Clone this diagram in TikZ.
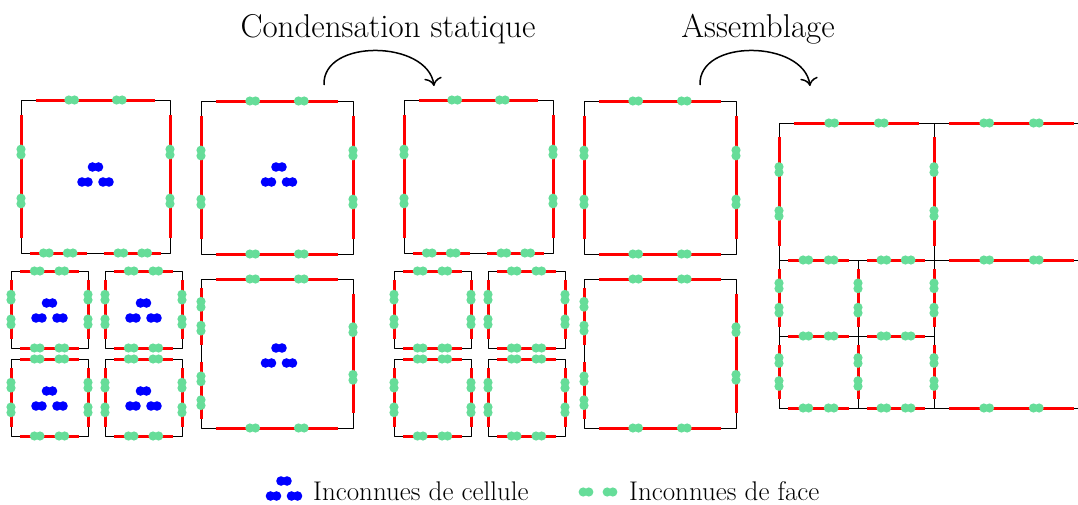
\documentclass[tikz,border=0pt]{standalone}
\usepackage{fontspec}
\usetikzlibrary{positioning,arrows.meta}
\definecolor{faceGreen}{RGB}{102,221,153}
\tikzset{
  edgeline/.style={line width=1pt, black},
  redface/.style={line width=3pt, red},
  facedot/.style={fill=faceGreen},
  celldot/.style={fill=blue},
}
\newcommand{\titlefont}{\fontsize{33}{40}\selectfont}
\newcommand{\legendfont}{\fontsize{27}{32}\selectfont}
% face horizontale : x1, x2, y
\newcommand{\hface}[3]{%
  \pgfmathsetmacro{\facelen}{#2-#1}%
  \pgfmathsetmacro{\faceins}{0.08*\facelen+3}%
  \draw[redface] (#1+\faceins,#3) -- (#2-\faceins,#3);
  \foreach \t in {0.34,0.66}{%
    \pgfmathsetmacro{\facemid}{#1+\t*\facelen}%
    \fill[facedot] (\facemid-2.8,#3) circle[radius=4.6pt] (\facemid+2.8,#3) circle[radius=4.6pt];
  }%
}
% face verticale : x, y1, y2
\newcommand{\vface}[3]{%
  \pgfmathsetmacro{\facelen}{#3-#2}%
  \pgfmathsetmacro{\faceins}{0.08*\facelen+3}%
  \draw[redface] (#1,#2+\faceins) -- (#1,#3-\faceins);
  \foreach \t in {0.34,0.66}{%
    \pgfmathsetmacro{\facemid}{#2+\t*\facelen}%
    \fill[facedot] (#1,\facemid-2.8) circle[radius=4.6pt] (#1,\facemid+2.8) circle[radius=4.6pt];
  }%
}
% inconnues de cellule, paire du haut en (x,y)
\newcommand{\celldofs}[2]{%
  \foreach \bx/\by in {0/0,-10.5/15,10.5/15}{%
    \fill[celldot] (#1+\bx-3,#2+\by) circle[radius=4.8pt] (#1+\bx+3,#2+\by) circle[radius=4.8pt];
  }%
}
% petite cellule : x1, y1, x2, y2
\newcommand{\smallcell}[4]{%
  \draw[edgeline] (#1,#2) rectangle (#3,#4);
  \hface{#1}{#3}{#2} \hface{#1}{#3}{#4}
  \vface{#1}{#2}{#4} \vface{#3}{#2}{#4}
}
\begin{document}
\begin{tikzpicture}[x=1pt, y=-1pt, line join=round, >={To[scale=1.7]}]
  \useasboundingbox (0,0) rectangle (1078,504);
  \clip (0,0) rectangle (1078,504);

  % avant et apres la condensation statique
  \foreach \dx/\dofs in {0/1,383/0}{
    \begin{scope}[xshift=\dx pt]
      % colonne de gauche
      \draw[edgeline] (21,100) rectangle (170,253);
      \hface{21}{170}{100}
      \hface{21}{95.5}{253} \hface{95.5}{170}{253}
      \vface{21}{100}{253} \vface{170}{100}{253}
      \foreach \x/\y in {11/271,105/271,11/359,105/359}{
        \smallcell{\x}{\y}{\x+77}{\y+77}
      }
      % colonne de droite
      \draw[edgeline] (201,101) rectangle (353,254);
      \hface{201}{353}{101} \hface{201}{353}{254}
      \vface{201}{101}{254} \vface{353}{101}{254}
      \draw[edgeline] (201,279) rectangle (353,428);
      \hface{201}{353}{279} \hface{201}{353}{428}
      \vface{201}{279}{353.5} \vface{201}{353.5}{428}
      \vface{353}{279}{428}
      \ifnum\dofs=1
        \foreach \x/\y in {95.5/167,49.5/303,143.5/303,49.5/391,143.5/391,279/167,279/348}{
          \celldofs{\x}{\y}
        }
      \fi
    \end{scope}
  }

  % maillage assemble
  \draw[edgeline] (779,123) -- (1090,123) (779,260) -- (1090,260)
    (779,408) -- (1090,408) (779,336) -- (934,336)
    (779,123) -- (779,408) (934,123) -- (934,408) (858,260) -- (858,408);
  \hface{779}{934}{123} \hface{934}{1089}{123}
  \foreach \y in {260,408}{
    \hface{779}{858}{\y} \hface{858}{934}{\y} \hface{934}{1089}{\y}
  }
  \hface{779}{858}{336} \hface{858}{934}{336}
  \foreach \x in {779,934}{\vface{\x}{123}{260}}
  \foreach \x in {779,858,934}{\vface{\x}{260}{336} \vface{\x}{336}{408}}

  % titres et fleches
  \node[anchor=base, font=\titlefont] (condtitle) at (388,37) {Condensation statique};
  \node[anchor=base, font=\titlefont] (asstitle) at (758,37) {Assemblage};
  \coordinate (condA) at (324,85);
  \coordinate (condB) at (434,86);
  \coordinate (assA) at (700,85);
  \coordinate (assB) at (810,86);
  \draw[->, line width=1.5pt] (condA) .. controls (322,38) and (428,40) .. (condB);
  \draw[->, line width=1.5pt] (assA) .. controls (698,38) and (804,40) .. (assB);

  % legende
  \celldofs{284}{481}
  \node[anchor=base west, font=\legendfont, inner sep=0pt] (legcell) at (313,500) {Inconnues de cellule};
  \foreach \x in {586,610}{
    \fill[facedot] (\x-2.8,492) circle[radius=4.6pt] (\x+2.8,492) circle[radius=4.6pt];
  }
  \node[anchor=base west, font=\legendfont, inner sep=0pt] (legface) at (629,500) {Inconnues de face};
\end{tikzpicture}
\end{document}
